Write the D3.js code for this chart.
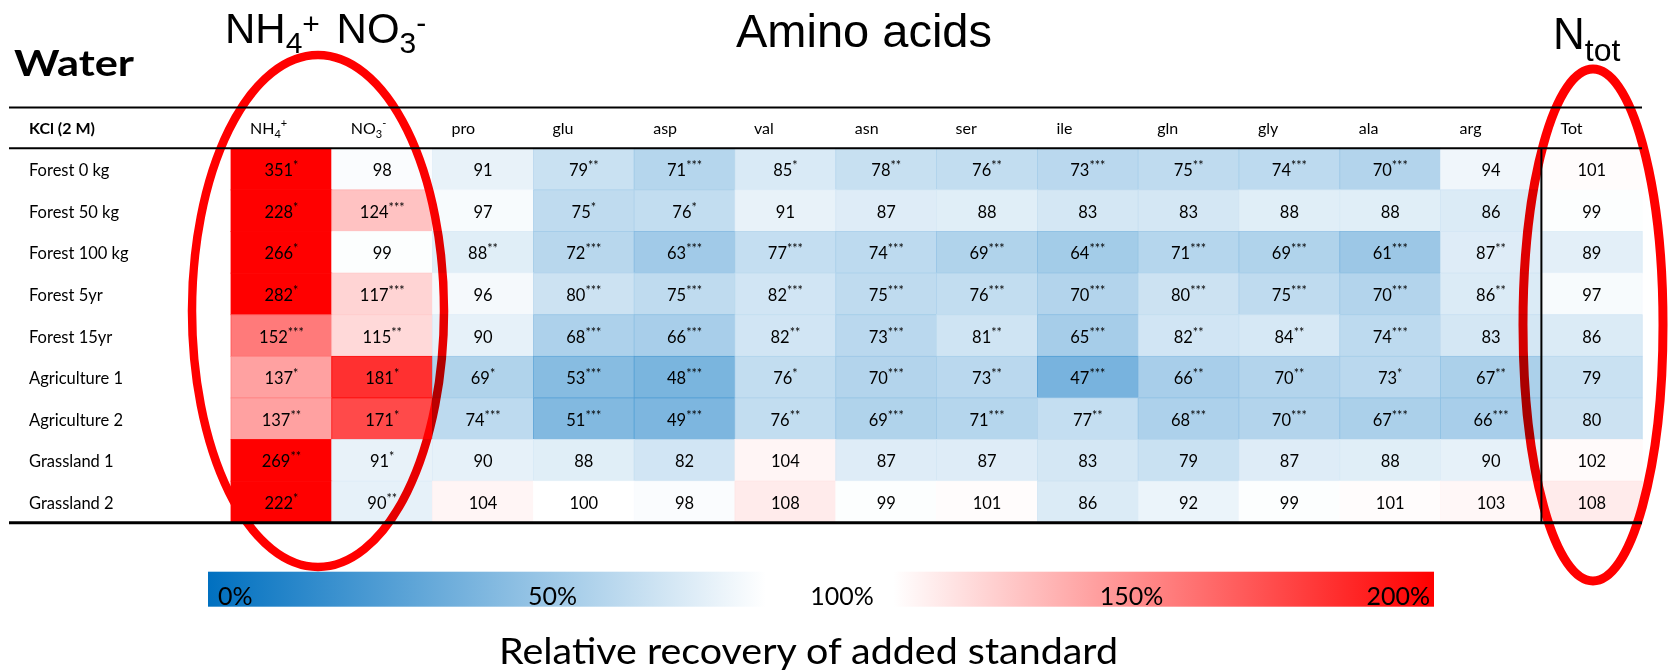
<!DOCTYPE html>
<html>
<head>
<meta charset="utf-8">
<script src="https://cdn.jsdelivr.net/npm/d3@7/dist/d3.min.js"></script>
<style>
  html, body { margin: 0; padding: 0; background: #ffffff; }
  svg { display: block; }
</style>
</head>
<body>
<svg id="chart" width="1668" height="671"></svg>
<script>
// ---------------- data ----------------
const rowLabels = ["Forest 0 kg", "Forest 50 kg", "Forest 100 kg", "Forest 5yr", "Forest 15yr",
                   "Agriculture 1", "Agriculture 2", "Grassland 1", "Grassland 2"];
const colKeys = ["NH4", "NO3", "pro", "glu", "asp", "val", "asn", "ser", "ile", "gln", "gly", "ala", "arg", "Tot"];
const colBase = ["NH", "NO", "pro", "glu", "asp", "val", "asn", "ser", "ile", "gln", "gly", "ala", "arg", "Tot"];
const colSub  = ["4", "3", "", "", "", "", "", "", "", "", "", "", "", ""];
const colSup  = ["+", "-", "", "", "", "", "", "", "", "", "", "", "", ""];

const values = [
  [351,  98,  91, 79, 71,  85, 78, 76, 73, 75, 74, 70, 94, 101],
  [228, 124,  97, 75, 76,  91, 87, 88, 83, 83, 88, 88, 86,  99],
  [266,  99,  88, 72, 63,  77, 74, 69, 64, 71, 69, 61, 87,  89],
  [282, 117,  96, 80, 75,  82, 75, 76, 70, 80, 75, 70, 86,  97],
  [152, 115,  90, 68, 66,  82, 73, 81, 65, 82, 84, 74, 83,  86],
  [137, 181,  69, 53, 48,  76, 70, 73, 47, 66, 70, 73, 67,  79],
  [137, 171,  74, 51, 49,  76, 69, 71, 77, 68, 70, 67, 66,  80],
  [269,  91,  90, 88, 82, 104, 87, 87, 83, 79, 87, 88, 90, 102],
  [222,  90, 104,100, 98, 108, 99,101, 86, 92, 99,101,103, 108]
];
const stars = [
  ["*",   "",    "",    "**",  "***", "*",   "**",  "**",  "***", "**",  "***", "***", "",    ""],
  ["*",   "***", "",    "*",   "*",   "",    "",    "",    "",    "",    "",    "",    "",    ""],
  ["*",   "",    "**",  "***", "***", "***", "***", "***", "***", "***", "***", "***", "**",  ""],
  ["*",   "***", "",    "***", "***", "***", "***", "***", "***", "***", "***", "***", "**",  ""],
  ["***", "**",  "",    "***", "***", "**",  "***", "**",  "***", "**",  "**",  "***", "",    ""],
  ["*",   "*",   "*",   "***", "***", "*",   "***", "**",  "***", "**",  "**",  "*",   "**",  ""],
  ["**",  "*",   "***", "***", "***", "**",  "***", "***", "**",  "***", "***", "***", "***", ""],
  ["**",  "*",   "",    "",    "",    "",    "",    "",    "",    "",    "",    "",    "",    ""],
  ["*",   "**",  "",    "",    "",    "",    "",    "",    "",    "",    "",    "",    "",    ""]
];

const colorDomain = [0, 100, 200];
const colorRange  = ["#0070C0", "#ffffff", "#ff0000"];
const legendTicks = [0, 50, 100, 150, 200];
const legendStopOffsets = [0, 0.455, 0.559, 1];
const legendStopColors  = ["#0070C0", "#ffffff", "#ffffff", "#ff0000"];

// ---------------- layout ----------------
const svg = d3.select("#chart");
const tableLeft = 9, tableRight = 1642;
const yTop = 107.5, yHead = 148.3, yBottom = 522.8;
const gridX0 = 231, colW = 100.8;

const x = d3.scaleBand().domain(colKeys).range([gridX0, gridX0 + colW * colKeys.length]).padding(0);
const y = d3.scaleBand().domain(rowLabels).range([yHead, yBottom]).padding(0);
const color = d3.scaleLinear().domain(colorDomain).range(colorRange).clamp(true);

const bodyFont = "Lato, 'Open Sans', sans-serif";
const titleFont = "'Liberation Sans', Arial, sans-serif";

// ---------------- cells ----------------
const cells = [];
values.forEach((row, i) => row.forEach((v, j) => cells.push({ r: rowLabels[i], c: colKeys[j], v, s: stars[i][j] })));

const gCells = svg.append("g");
gCells.selectAll("rect").data(cells).enter().append("rect")
  .attr("x", d => x(d.c))
  .attr("y", d => y(d.r))
  .attr("width", x.bandwidth())
  .attr("height", y.bandwidth())
  .attr("fill", d => color(d.v))
  .attr("stroke", d => color(100 + (d.v - 100) * 1.3))
  .attr("stroke-width", 0.8);

const cellText = gCells.selectAll("text").data(cells).enter().append("text")
  .attr("x", d => x(d.c) + x.bandwidth() / 2)
  .attr("y", d => y(d.r) + y.bandwidth() / 2 + 7)
  .attr("text-anchor", "middle")
  .attr("font-family", bodyFont)
  .attr("font-size", 16.5)
  .attr("fill", "#000");
cellText.append("tspan").text(d => d.v);
cellText.filter(d => d.s).append("tspan")
  .attr("font-size", 12.5)
  .attr("dy", -6)
  .text(d => d.s);

// ---------------- row labels ----------------
svg.append("g").selectAll("text").data(rowLabels).enter().append("text")
  .attr("x", 29)
  .attr("y", d => y(d) + y.bandwidth() / 2 + 7)
  .attr("font-family", bodyFont)
  .attr("font-size", 16.5)
  .attr("fill", "#000")
  .text(d => d);

// ---------------- header ----------------
svg.append("text")
  .attr("x", 29).attr("y", 133.5)
  .attr("font-family", bodyFont).attr("font-weight", "bold").attr("font-size", 16)
  .text("KCl (2 M)");

const head = svg.append("g").selectAll("text").data(colKeys).enter().append("text")
  .attr("x", d => x(d) + 19)
  .attr("y", 133.5)
  .attr("font-family", bodyFont)
  .attr("font-size", 16)
  .attr("fill", "#000");
head.append("tspan").text((d, i) => colBase[i]);
head.filter((d, i) => colSub[i]).append("tspan").attr("font-size", 11).attr("dy", 4).text(d => colSub[colKeys.indexOf(d)]);
head.filter((d, i) => colSup[i]).append("tspan").attr("font-size", 11).attr("dy", -11).text(d => colSup[colKeys.indexOf(d)]);

// ---------------- rules ----------------
const rules = svg.append("g").attr("stroke", "#000");
rules.append("line").attr("x1", tableLeft).attr("x2", tableRight).attr("y1", yTop).attr("y2", yTop).attr("stroke-width", 2);
rules.append("line").attr("x1", tableLeft).attr("x2", tableRight).attr("y1", yHead).attr("y2", yHead).attr("stroke-width", 2);
rules.append("line").attr("x1", tableLeft).attr("x2", tableRight).attr("y1", yBottom).attr("y2", yBottom).attr("stroke-width", 3);
rules.append("line").attr("x1", x("Tot")).attr("x2", x("Tot")).attr("y1", yHead).attr("y2", yBottom).attr("stroke-width", 2);

// ---------------- titles ----------------
svg.append("text")
  .attr("x", 14).attr("y", 76)
  .attr("font-family", bodyFont).attr("font-weight", "bold").attr("font-size", 37)
  .attr("textLength", 120).attr("lengthAdjust", "spacingAndGlyphs")
  .text("Water");

const t1 = svg.append("text").attr("x", 225).attr("y", 43)
  .attr("font-family", titleFont).attr("font-size", 42).attr("fill", "#000");
t1.append("tspan").text("NH");
t1.append("tspan").attr("font-size", 30).attr("dy", 10).text("4");
t1.append("tspan").attr("font-size", 30).attr("dy", -19).text("+");
t1.append("tspan").attr("dy", 9).attr("dx", 5).text(" NO");
t1.append("tspan").attr("font-size", 30).attr("dy", 10).text("3");
t1.append("tspan").attr("font-size", 30).attr("dy", -20).text("-");

svg.append("text").attr("x", 736).attr("y", 46.5)
  .attr("font-family", titleFont).attr("font-size", 47).attr("fill", "#000")
  .text("Amino acids");

const t3 = svg.append("text").attr("x", 1553).attr("y", 48.5)
  .attr("font-family", titleFont).attr("font-size", 44).attr("fill", "#000");
t3.append("tspan").text("N");
t3.append("tspan").attr("font-size", 32).attr("dy", 12).text("tot");

// ---------------- legend ----------------
const legX0 = 208, legX1 = 1434, legY = 571.7, legH = 35;
const defs = svg.append("defs");
const grad = defs.append("linearGradient").attr("id", "leg").attr("x1", "0%").attr("x2", "100%").attr("y1", "0%").attr("y2", "0%");
grad.selectAll("stop").data(legendStopOffsets).enter().append("stop")
  .attr("offset", d => d)
  .attr("stop-color", (d, i) => legendStopColors[i]);
svg.append("rect").attr("x", legX0).attr("y", legY).attr("width", legX1 - legX0).attr("height", legH).attr("fill", "url(#leg)");

const legScale = d3.scaleLinear().domain([0, 200]).range([legX0 + 34, legX1 - 34]);
svg.append("g").selectAll("text").data(legendTicks).enter().append("text")
  .attr("x", (d, i) => i === 0 ? legX0 + 10 : (i === legendTicks.length - 1 ? legX1 - 4 : legScale(d) + 21))
  .attr("y", legY + legH - 2)
  .attr("text-anchor", (d, i) => i === 0 ? "start" : (i === legendTicks.length - 1 ? "end" : "middle"))
  .attr("font-family", bodyFont).attr("font-size", 25).attr("fill", "#000")
  .text(d => d + "%");

svg.append("text").attr("x", 499).attr("y", 664)
  .attr("font-family", bodyFont).attr("font-size", 37)
  .attr("textLength", 619).attr("lengthAdjust", "spacingAndGlyphs")
  .text("Relative recovery of added standard");

// ---------------- annotation ellipses ----------------
const ann = svg.append("g").attr("fill", "none").attr("stroke", "#ff0000").style("mix-blend-mode", "multiply");
ann.append("ellipse").attr("cx", 318).attr("cy", 311).attr("rx", 126).attr("ry", 256).attr("stroke-width", 8.5);
ann.append("ellipse").attr("cx", 1593).attr("cy", 325).attr("rx", 70).attr("ry", 256).attr("stroke-width", 9);
</script>
</body>
</html>
